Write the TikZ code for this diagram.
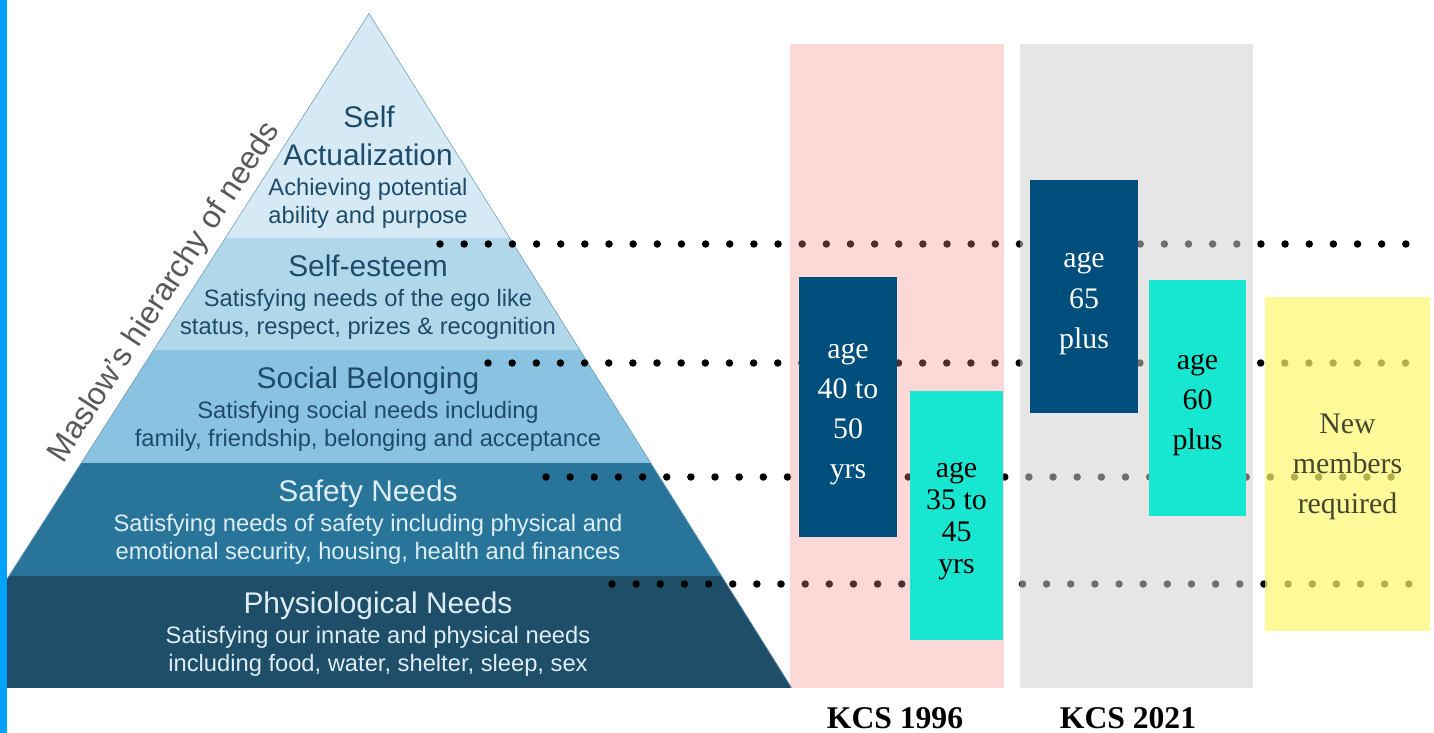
\documentclass[tikz,border=0pt]{standalone}
\usepackage{fontspec}
\setmainfont{Liberation Sans}
\newfontfamily\boxfont{Liberation Serif}
\usetikzlibrary{positioning}

\definecolor{barblue}{RGB}{0,162,255}
\definecolor{lvlA}{RGB}{214,234,245}
\definecolor{lvlB}{RGB}{177,215,235}
\definecolor{lvlC}{RGB}{138,195,225}
\definecolor{lvlD}{RGB}{40,117,153}
\definecolor{lvlE}{RGB}{30,78,104}
\definecolor{pyredge}{RGB}{110,155,185}
\definecolor{txtdark}{RGB}{30,75,105}
\definecolor{txtlight}{RGB}{222,238,246}
\definecolor{maslowgray}{RGB}{89,89,89}
\definecolor{navybox}{RGB}{0,78,124}
\definecolor{cyanbox}{RGB}{23,230,208}
\definecolor{pinkcol}{RGB}{245,140,130}
\definecolor{graycol}{RGB}{208,208,208}
\definecolor{yellowcol}{RGB}{255,248,109}
\definecolor{newtxt}{RGB}{70,70,45}

\tikzset{
  lvltitle/.style={font=\fontsize{17}{20}\selectfont, inner sep=0pt, text height=0.72em, text depth=0.22em, anchor=base},
  lvltext/.style={font=\fontsize{13.5}{15.9}\selectfont, inner sep=0pt, align=center},
  dotrow/.style={line width=0.15cm, line cap=round, dash pattern=on 0pt off 0.483cm},
  colbox/.style={draw=none, inner sep=0pt},
  agebox/.style={draw=none, inner sep=0pt},
  agetext/.style={inner sep=0pt, align=center, yshift=-4pt, font=\boxfont\fontsize{17}{22.8}\selectfont},
}

\begin{document}
\begin{tikzpicture}[x=0.02cm, y=-0.02cm]
    \useasboundingbox (0,0) rectangle (1434,733);

    % pyramid, cut at the bar
    \begin{scope}
        \clip (7,0) rectangle (1434,733);
        \clip (369,13) -- (-63,688) -- (792,688) -- cycle;
        \fill[lvlA] (-70,0) rectangle (800,238);
        \fill[lvlB] (-70,238) rectangle (800,350);
        \fill[lvlC] (-70,350) rectangle (800,463);
        \fill[lvlD] (-70,463) rectangle (800,576);
        \fill[lvlE] (-70,576) rectangle (800,688);
        \draw[pyredge, line width=0.6pt] (-63,688) -- (369,13) -- (792,688);
    \end{scope}
    \fill[barblue] (0,0) rectangle (7,733);

    \node[rotate=57, anchor=base, text=maslowgray, font=\fontsize{18}{20}\selectfont] (maslow) at (172,297) {Maslow’s hierarchy of needs};

    \node[lvltitle, text=txtdark] (self) at (369,128) {Self};
    \node[lvltitle, text=txtdark] (actual) at (368,166) {Actualization};
    \node[lvltext, text=txtdark, below=4.6pt of actual] (actualtxt) {Achieving potential\\ability and purpose};

    \node[lvltitle, text=txtdark] (esteem) at (368,276) {Self-esteem};
    \node[lvltext, text=txtdark, below=5pt of esteem] (esteemtxt) {Satisfying needs of the ego like\\status, respect, prizes \& recognition};

    \node[lvltitle, text=txtdark] (social) at (368,388) {Social Belonging};
    \node[lvltext, text=txtdark, below=5pt of social] (socialtxt) {Satisfying social needs including\\family, friendship, belonging and acceptance};

    \node[lvltitle, text=txtlight] (safety) at (368,501) {Safety Needs};
    \node[lvltext, text=txtlight, below=5pt of safety] (safetytxt) {Satisfying needs of safety including physical and\\emotional security, housing, health and finances};

    \node[lvltitle, text=txtlight] (physio) at (378,613) {Physiological Needs};
    \node[lvltext, text=txtlight, below=5pt of physio] (physiotxt) {Satisfying our innate and physical needs\\including food, water, shelter, sleep, sex};

    % dotted levels
    \coordinate (row1a) at (440,244);  \coordinate (row1b) at (1406,244);
    \coordinate (row2a) at (488,363);  \coordinate (row2b) at (1406,363);
    \coordinate (row3a) at (546,477);  \coordinate (row3b) at (1400,477);
    \coordinate (row4a) at (612,584);  \coordinate (row4b) at (1411,584);
    \draw[dotrow] (row1a) -- (row1b);
    \draw[dotrow] (row2a) -- (row2b);
    \draw[dotrow] (row3a) -- (row3b);
    \draw[dotrow] (row4a) -- (row4b);

    % columns
    \node[colbox, fill=pinkcol, fill opacity=0.33, minimum width=4.28cm, minimum height=12.88cm] (col96) at (897,366) {};
    \node[colbox, fill=graycol, fill opacity=0.53, minimum width=4.66cm, minimum height=12.88cm] (col21) at (1136.5,366) {};
    \node[agebox, fill=yellowcol, fill opacity=0.7, minimum width=3.3cm, minimum height=6.68cm,
        label={[agetext, yshift=2.3pt, text=newtxt, fill opacity=1, text opacity=1]center:{New\\members\\required}}] (newmem) at (1347.5,464) {};

    \node[agebox, fill=navybox, minimum width=1.96cm, minimum height=5.2cm,
        label={[agetext, text=white]center:{age\\40 to\\50\\yrs}}] (age4050) at (848,407) {};
    \node[agebox, fill=cyanbox, minimum width=1.86cm, minimum height=4.98cm,
        label={[agetext, yshift=0.6pt, text=black, font=\boxfont\fontsize{17}{18.2}\selectfont]center:{age\\35 to\\45\\yrs}}] (age3545) at (956.5,515.5) {};
    \node[agebox, fill=navybox, minimum width=2.16cm, minimum height=4.66cm,
        label={[agetext, text=white]center:{age\\65\\plus}}] (age65) at (1084,296.5) {};
    \node[agebox, fill=cyanbox, minimum width=1.94cm, minimum height=4.72cm,
        label={[agetext, text=black]center:{age\\60\\plus}}] (age60) at (1197.5,398) {};

    \node[font=\boxfont\bfseries\fontsize{18}{20}\selectfont] (kcs96) at (895,718) {KCS 1996};
    \node[font=\boxfont\bfseries\fontsize{18}{20}\selectfont] (kcs21) at (1128,718) {KCS 2021};

\end{tikzpicture}
\end{document}
